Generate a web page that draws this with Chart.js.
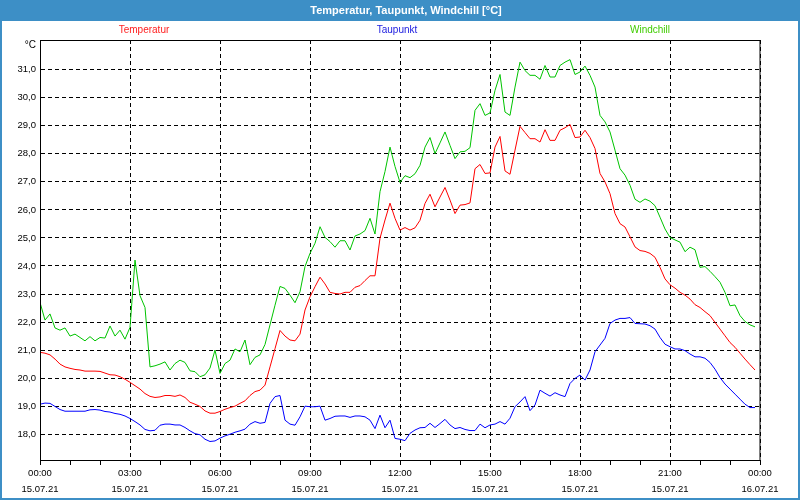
<!DOCTYPE html>
<html>
<head>
<meta charset="utf-8">
<script src="https://cdn.jsdelivr.net/npm/chart.js@4"></script>
<style>
html,body{margin:0;padding:0;background:#fff;}
canvas{display:block;}
</style>
</head>
<body>
<canvas id="c" width="800" height="500"></canvas>
<script>
// ---- data (10-minute samples, 15.07.21 00:00 .. 23:50) ----
const chartTitle = 'Temperatur, Taupunkt, Windchill [°C]';
const seriesNames = ['Temperatur', 'Taupunkt', 'Windchill'];
const unitLabel = '°C';
const dayLabels = ['15.07.21', '16.07.21'];
const sampleMinutes = 10;

const temperatur = [
 20.92,20.89,20.83,20.68,20.50,20.40,20.35,20.31,20.29,20.25,20.25,20.25,20.24,20.18,20.12,20.11,20.05,19.96,19.85,19.73,19.61,19.45,19.35,19.31,
 19.33,19.38,19.38,19.35,19.40,19.31,19.14,19.07,18.99,18.83,18.75,18.75,18.81,18.89,18.95,19.00,19.10,19.19,19.38,19.52,19.57,19.75,20.40,21.05,
 21.70,21.50,21.36,21.33,21.57,22.43,22.90,23.26,23.60,23.36,23.06,23.02,23.00,23.06,23.06,23.24,23.30,23.48,23.65,23.65,24.99,25.64,26.24,25.70,
 25.28,25.37,25.28,25.36,25.63,26.23,26.56,26.11,26.46,26.80,26.35,25.87,26.17,26.19,26.25,27.47,27.62,27.30,27.32,28.24,28.62,27.39,27.27,28.13,
 28.98,28.76,28.54,28.54,28.42,28.86,28.48,28.48,28.84,28.93,29.05,28.58,28.60,28.84,28.58,28.19,27.30,27.00,26.58,25.87,25.51,25.39,25.04,24.68,
 24.55,24.52,24.45,24.31,23.95,23.54,23.33,23.21,23.06,22.96,22.82,22.62,22.52,22.37,22.23,21.99,21.75,21.51,21.27,21.10,20.89,20.68,20.48,20.29
];
const taupunkt = [
 19.07,19.11,19.10,18.99,18.88,18.82,18.82,18.82,18.82,18.82,18.87,18.88,18.86,18.81,18.79,18.74,18.71,18.65,18.56,18.45,18.33,18.17,18.12,18.14,
 18.32,18.36,18.36,18.33,18.33,18.24,18.12,18.02,17.98,17.82,17.74,17.76,17.86,17.94,18.00,18.07,18.12,18.18,18.36,18.45,18.39,18.42,19.10,19.34,
 19.38,18.50,18.36,18.32,18.62,19.00,18.98,18.98,19.00,18.50,18.56,18.64,18.65,18.65,18.60,18.65,18.65,18.62,18.50,18.20,18.68,18.23,18.50,17.85,
 17.82,17.77,18.03,18.15,18.23,18.24,18.39,18.24,18.38,18.53,18.33,18.20,18.24,18.17,18.13,18.13,18.36,18.23,18.33,18.36,18.45,18.36,18.57,18.98,
 19.15,19.34,18.84,19.04,19.57,19.46,19.36,19.48,19.40,19.34,19.81,19.99,20.11,19.93,20.29,20.94,21.18,21.42,21.95,22.07,22.13,22.13,22.16,21.95,
 21.94,21.93,21.87,21.75,21.45,21.21,21.12,21.04,21.04,20.98,20.86,20.76,20.76,20.71,20.56,20.32,20.02,19.79,19.61,19.43,19.25,19.07,18.95,18.95
];
const windchill = [
 22.70,22.07,22.29,21.79,21.71,21.79,21.50,21.57,21.45,21.33,21.48,21.33,21.45,21.43,21.86,21.50,21.71,21.39,21.81,24.21,22.94,22.52,20.40,20.44,
 20.50,20.58,20.29,20.52,20.64,20.56,20.26,20.23,20.05,20.12,20.36,21.00,20.17,20.52,20.64,21.04,20.94,21.36,20.48,20.74,20.83,21.20,21.90,22.60,
 23.27,23.20,22.96,22.69,23.08,23.98,24.45,24.81,25.40,25.02,24.87,24.67,24.90,24.90,24.57,25.07,25.14,25.26,25.70,25.14,26.65,27.37,28.24,27.55,
 26.98,27.22,27.15,27.29,27.59,28.24,28.58,28.01,28.39,28.78,28.30,27.83,28.07,28.09,28.22,29.55,29.79,29.37,29.46,30.26,30.83,29.49,29.37,30.38,
 31.27,30.97,30.80,30.80,30.66,31.15,30.74,30.74,31.15,31.27,31.36,30.83,30.92,31.13,30.80,30.38,29.37,29.14,28.78,28.13,27.47,27.24,26.88,26.38,
 26.27,26.39,26.31,26.15,25.74,25.32,25.02,24.93,24.85,24.51,24.67,24.58,23.95,23.98,23.81,23.62,23.42,23.06,22.58,22.61,22.23,22.02,21.90,21.83
];
const timeLabels = temperatur.map((_, i) => i * sampleMinutes);

// ---- style ----
const FONT = '"Liberation Sans", Arial, sans-serif';
const BAR = '#3d8fc6';
const lineColors = ['#ff0000', '#0000ff', '#00c400'];
const legendColors = ['#ff2020', '#2020e0', '#40cc00'];

function fmtTime(m) {
  const h = Math.floor(m / 60) % 24;
  return String(h).padStart(2, '0') + ':' + String(m % 60).padStart(2, '0');
}

const decor = {
  id: 'decor',
  beforeDraw(chart) {
    const ctx = chart.ctx;
    ctx.save();
    ctx.fillStyle = '#ffffff';
    ctx.fillRect(0, 0, 800, 500);
    ctx.fillStyle = BAR;
    ctx.fillRect(0, 0, 800, 21);
    ctx.strokeStyle = BAR;
    ctx.lineWidth = 2;
    ctx.strokeRect(1, 1, 798, 498);
    ctx.fillStyle = '#ffffff';
    ctx.font = 'bold 11px ' + FONT;
    ctx.textAlign = 'center';
    ctx.textBaseline = 'middle';
    ctx.fillText(chartTitle, 406, 10.5);
    ctx.restore();
  },
  afterDraw(chart) {
    const ctx = chart.ctx;
    const a = chart.chartArea;
    ctx.save();
    ctx.strokeStyle = '#000';
    ctx.lineWidth = 1;
    ctx.strokeRect(Math.round(a.left) + 0.5, Math.round(a.top) + 0.5, Math.round(a.right - a.left) - 0.5, Math.round(a.bottom - a.top));
    ctx.font = '10px ' + FONT;
    ctx.textAlign = 'center';
    ctx.textBaseline = 'middle';
    const lx = [144, 397, 650];
    seriesNames.forEach((n, i) => {
      ctx.fillStyle = legendColors[i];
      ctx.fillText(n, lx[i], 30.5);
    });
    ctx.fillStyle = '#000';
    ctx.textAlign = 'right';
    ctx.fillText(unitLabel, 36, 45);
    ctx.restore();
  }
};

new Chart(document.getElementById('c'), {
  type: 'line',
  data: {
    labels: timeLabels,
    datasets: [
      { label: seriesNames[0], data: temperatur, borderColor: lineColors[0] },
      { label: seriesNames[1], data: taupunkt, borderColor: lineColors[1] },
      { label: seriesNames[2], data: windchill, borderColor: lineColors[2] }
    ].map(d => Object.assign(d, { borderWidth: 1, pointRadius: 0, tension: 0, fill: false }))
  },
  options: {
    responsive: false,
    animation: false,
    events: [],
    layout: { padding: { top: 40, right: 40, left: 0, bottom: 0 } },
    plugins: { legend: { display: false }, title: { display: false }, tooltip: { enabled: false } },
    scales: {
      x: {
        type: 'linear',
        min: 0, max: 1440,
        afterFit(s) { s.height = 40; },
        border: { display: true, color: '#000', width: 1, dash: [4, 3] },
        grid: {
          color: c => (c.tick && c.tick.value % 180 === 0) ? '#000' : 'rgba(0,0,0,0)',
          tickColor: '#000',
          tickLength: 5,
          lineWidth: 1
        },
        ticks: {
          stepSize: 60,
          autoSkip: false,
          maxRotation: 0,
          padding: 0,
          color: '#000',
          font: { family: FONT, size: 9.5, lineHeight: '16px' },
          callback: v => (v % 180 === 0) ? [fmtTime(v), v >= 1440 ? dayLabels[1] : dayLabels[0]] : ''
        }
      },
      y: {
        min: 17.08, max: 32.06,
        afterFit(s) { s.width = 40; },
        border: { display: true, color: '#000', width: 1, dash: [4, 3] },
        grid: {
          color: c => (c.tick && c.tick.value <= 31) ? '#000' : 'rgba(0,0,0,0)',
          drawTicks: false,
          lineWidth: 1
        },
        ticks: {
          stepSize: 1,
          includeBounds: false,
          padding: 4,
          color: '#000',
          font: { family: FONT, size: 9.5 },
          callback: v => v <= 31 ? v.toFixed(1).replace('.', ',') : ''
        }
      }
    }
  },
  plugins: [decor]
});
</script>
</body>
</html>
